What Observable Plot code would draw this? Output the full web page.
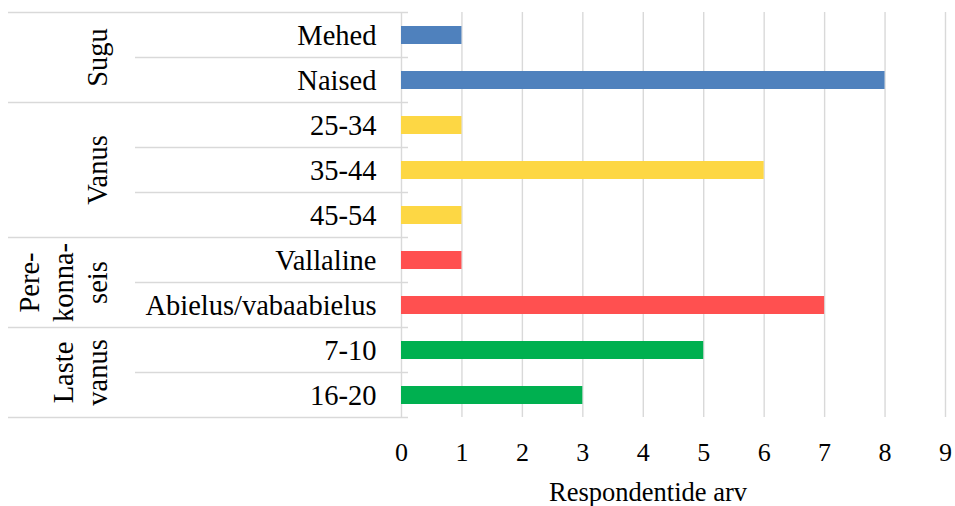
<!DOCTYPE html>
<html><head><meta charset="utf-8">
<script src="https://cdn.jsdelivr.net/npm/d3@7"></script>
<script src="https://cdn.jsdelivr.net/npm/@observablehq/plot@0.6"></script>
<style>body{margin:0;background:#fff} svg{display:block}</style>
</head><body><div id="chart"></div>
<script>
const categories = ["Mehed","Naised","25-34","35-44","45-54","Vallaline","Abielus/vabaabielus","7-10","16-20"];
const values = [1,8,1,6,1,1,7,5,3];
const groupOf = ["Sugu","Sugu","Vanus","Vanus","Vanus","Perekonnaseis","Perekonnaseis","Laste vanus","Laste vanus"];
const groupNames = ["Sugu","Vanus","Perekonnaseis","Laste vanus"];
const groupLines = [["Sugu"],["Vanus"],["Pere-","konna-","seis"],["Laste","vanus"]];
const groupColors = ["#4F81BD","#FDD744","#FF5050","#00B050"];
const xTicks = [0,1,2,3,4,5,6,7,8,9];
const xLabel = "Respondentide arv";

const data = categories.map((c,i)=>({category:c, value:values[i], group:groupOf[i]}));
const FONT = "Liberation Serif";
const GRID = "#d9d9d9";

const plot = Plot.plot({
  width:955, height:506, marginLeft:401, marginRight:10, marginTop:12, marginBottom:89,
  style:{fontFamily:FONT, background:"#fff", color:"#000"},
  x:{domain:[0,9], label:null},
  y:{domain:categories, paddingInner:0.6, paddingOuter:0.3, label:null},
  color:{domain:groupNames, range:groupColors},
  marks:[
    Plot.ruleX(xTicks, {stroke:GRID, strokeWidth:1.4}),
    Plot.barX(data, {x:"value", y:"category", fill:"group"}),
    Plot.axisX(xTicks, {tickSize:0, tickPadding:25, fontSize:26, label:null}),
    Plot.axisY({tickSize:0, tickPadding:25, fontSize:28.5, label:null})
  ]
});
document.getElementById("chart").appendChild(plot);

const svg = d3.select(plot);
const xs = plot.scale("x"), ys = plot.scale("y");
const gap = (ys.step - ys.bandwidth)/2;
const x0 = xs.apply(0);
const g = svg.append("g");
categories.forEach((c,i)=>{
  const top = ys.apply(c) - gap;
  const isGroupStart = i===0 || groupOf[i]!==groupOf[i-1];
  g.append("line").attr("x1", isGroupStart?8:135).attr("x2", x0+7)
    .attr("y1", top).attr("y2", top).attr("stroke", GRID).attr("stroke-width",1.4);
});
const lastBottom = ys.apply(categories[categories.length-1]) + ys.bandwidth + gap;
g.append("line").attr("x1",8).attr("x2",x0+7).attr("y1",lastBottom).attr("y2",lastBottom)
  .attr("stroke",GRID).attr("stroke-width",1.4);

groupNames.forEach((gn,k)=>{
  const idx = categories.map((c,i)=>i).filter(i=>groupOf[i]===gn);
  const top = ys.apply(categories[idx[0]]) - gap;
  const bot = ys.apply(categories[idx[idx.length-1]]) + ys.bandwidth + gap;
  const cy = (top+bot)/2;
  const lines = groupLines[k];
  const t = g.append("text").attr("transform",`translate(107,${cy}) rotate(-90)`)
    .attr("text-anchor","middle").style("font-family",FONT).attr("font-size",28.5).attr("fill","#000");
  lines.forEach((ln,j)=>{
    t.append("tspan").attr("x",0).attr("y", -(lines.length-1-j)*34).text(ln);
  });
});

svg.append("text").attr("x",648).attr("y",501).attr("text-anchor","middle")
  .style("font-family",FONT).attr("font-size",26.5).attr("fill","#000").text(xLabel);
</script>
</body></html>
